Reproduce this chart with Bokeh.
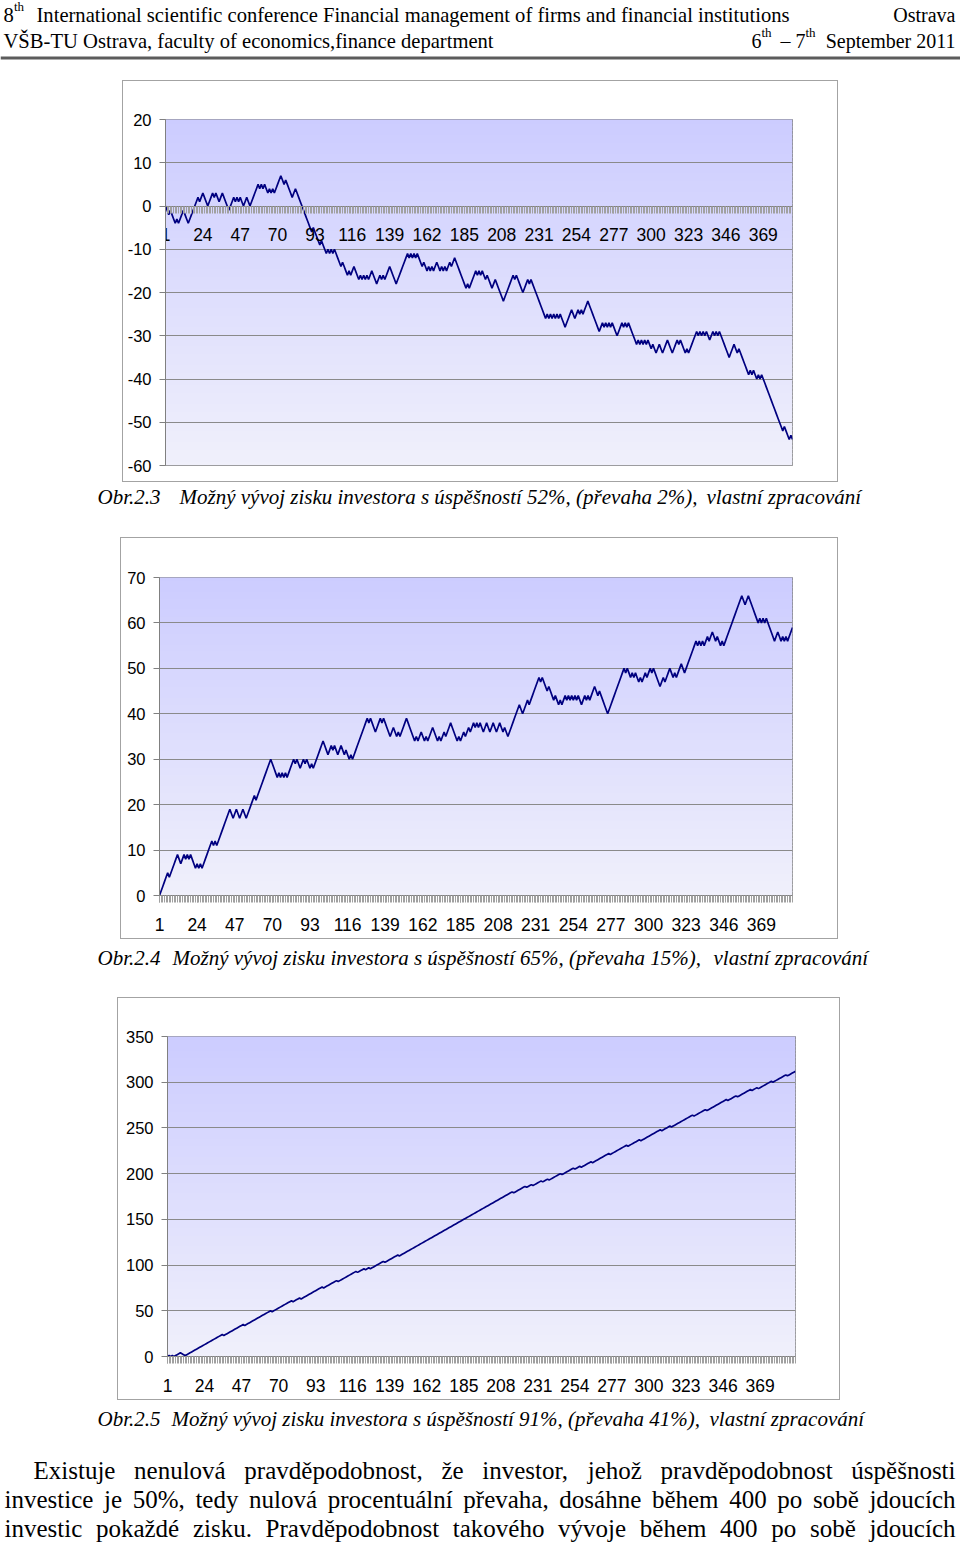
import numpy as np
from bokeh.plotting import figure
from bokeh.models import FixedTicker
from bokeh.core.properties import value
from bokeh.embed import file_html
from bokeh.resources import INLINE

# ---------------- data ----------------
x_tick_labels = ["1", "24", "47", "70", "93", "116", "139", "162", "185", "208",
                 "231", "254", "277", "300", "323", "346", "369"]
y_ticks_52 = [-60, -50, -40, -30, -20, -10, 0, 10, 20]
y_ticks_65 = [0, 10, 20, 30, 40, 50, 60, 70]
y_ticks_91 = [0, 50, 100, 150, 200, 250, 300, 350]

# cumulative profit, success 52 %
profit_52 = [
    0, -1, -2, -1, -2, -3, -4, -3, -4, -3,
    -2, -1, -2, -3, -4, -3, -2, -1, 0, 1,
    2, 1, 2, 3, 2, 1, 0, 1, 2, 3,
    2, 3, 2, 1, 2, 3, 2, 1, 0, -1,
    0, 1, 2, 1, 2, 1, 2, 1, 0, 1,
    2, 1, 0, 1, 2, 3, 4, 5, 4, 5,
    4, 5, 4, 3, 4, 3, 4, 3, 4, 5,
    6, 7, 6, 5, 6, 5, 4, 3, 2, 3,
    4, 3, 2, 1, 0, -1, -2, -3, -4, -5,
    -6, -5, -6, -7, -8, -9, -8, -9, -10, -11,
    -10, -11, -10, -11, -10, -11, -12, -13, -14, -13,
    -14, -15, -16, -15, -16, -15, -14, -15, -16, -17,
    -16, -17, -16, -17, -16, -17, -16, -15, -16, -17,
    -18, -17, -16, -17, -16, -17, -16, -15, -14, -15,
    -16, -17, -18, -17, -16, -15, -14, -13, -12, -11,
    -12, -11, -12, -11, -12, -11, -12, -13, -14, -13,
    -14, -15, -14, -15, -14, -15, -14, -13, -14, -15,
    -14, -15, -14, -15, -14, -13, -14, -13, -12, -13,
    -14, -15, -16, -17, -18, -19, -18, -19, -18, -17,
    -16, -15, -16, -15, -16, -15, -16, -17, -16, -17,
    -18, -19, -18, -17, -18, -19, -20, -21, -22, -21,
    -20, -19, -18, -17, -16, -17, -16, -17, -18, -19,
    -20, -19, -18, -17, -18, -17, -18, -19, -20, -21,
    -22, -23, -24, -25, -26, -25, -26, -25, -26, -25,
    -26, -25, -26, -25, -26, -27, -28, -27, -26, -25,
    -24, -25, -26, -25, -24, -25, -24, -25, -24, -23,
    -22, -23, -24, -25, -26, -27, -28, -29, -28, -27,
    -28, -27, -28, -27, -28, -27, -28, -29, -30, -29,
    -28, -27, -28, -27, -28, -27, -28, -29, -30, -31,
    -32, -31, -32, -31, -32, -31, -32, -31, -32, -33,
    -32, -33, -34, -33, -32, -33, -34, -33, -32, -31,
    -32, -33, -34, -33, -32, -31, -32, -31, -32, -33,
    -34, -33, -34, -33, -32, -31, -30, -29, -30, -29,
    -30, -29, -30, -29, -30, -31, -30, -29, -30, -29,
    -30, -29, -30, -31, -32, -33, -34, -35, -34, -33,
    -32, -33, -34, -33, -34, -35, -36, -37, -38, -39,
    -38, -39, -38, -39, -40, -39, -40, -39, -40, -41,
    -42, -43, -44, -45, -46, -47, -48, -49, -50, -51,
    -52, -51, -52, -53, -54, -53, -54,
]

# cumulative profit, success 65 %
profit_65 = [
    0, 1, 2, 3, 4, 5, 4, 5, 6, 7,
    8, 9, 8, 7, 8, 9, 8, 9, 8, 9,
    8, 7, 6, 7, 6, 7, 6, 7, 8, 9,
    10, 11, 12, 11, 12, 11, 12, 13, 14, 15,
    16, 17, 18, 19, 18, 17, 18, 19, 18, 17,
    18, 19, 18, 17, 18, 19, 20, 21, 22, 21,
    22, 23, 24, 25, 26, 27, 28, 29, 30, 29,
    28, 27, 26, 27, 26, 27, 26, 27, 26, 27,
    28, 29, 30, 29, 30, 29, 28, 29, 30, 29,
    30, 29, 28, 29, 28, 29, 30, 31, 32, 33,
    34, 33, 32, 31, 32, 33, 32, 33, 32, 31,
    32, 33, 32, 31, 32, 31, 30, 31, 30, 31,
    32, 33, 34, 35, 36, 37, 38, 39, 38, 39,
    38, 37, 36, 37, 38, 39, 38, 39, 38, 37,
    36, 35, 36, 37, 36, 35, 36, 35, 36, 37,
    38, 39, 38, 37, 36, 35, 34, 35, 34, 35,
    36, 35, 34, 35, 34, 35, 36, 37, 36, 35,
    34, 35, 34, 35, 36, 35, 36, 37, 38, 37,
    36, 35, 34, 35, 34, 35, 36, 35, 36, 37,
    36, 37, 38, 37, 38, 37, 38, 37, 36, 37,
    38, 37, 36, 37, 38, 37, 36, 37, 38, 37,
    36, 37, 36, 35, 36, 37, 38, 39, 40, 41,
    42, 41, 40, 41, 42, 43, 42, 43, 44, 45,
    46, 47, 48, 47, 48, 47, 46, 45, 46, 45,
    44, 43, 44, 43, 42, 43, 42, 43, 44, 43,
    44, 43, 44, 43, 44, 43, 44, 43, 42, 43,
    44, 43, 44, 43, 44, 45, 46, 45, 44, 45,
    44, 43, 42, 41, 40, 41, 42, 43, 44, 45,
    46, 47, 48, 49, 50, 49, 50, 49, 48, 49,
    48, 49, 48, 47, 48, 47, 48, 49, 48, 49,
    50, 49, 50, 49, 48, 47, 46, 47, 48, 47,
    48, 49, 50, 49, 48, 49, 48, 49, 50, 51,
    50, 49, 50, 51, 52, 53, 54, 55, 56, 55,
    56, 55, 56, 55, 56, 57, 56, 57, 58, 57,
    56, 57, 56, 55, 56, 55, 56, 57, 58, 59,
    60, 61, 62, 63, 64, 65, 66, 65, 64, 65,
    66, 65, 64, 63, 62, 61, 60, 61, 60, 61,
    60, 61, 60, 59, 58, 57, 56, 57, 58, 57,
    56, 57, 56, 57, 56, 57, 58, 59,
]

# cumulative profit, success 91 %
profit_91 = [
    0, 1, 0, 1, 0, 1, 2, 3, 4, 3,
    2, 1, 2, 3, 4, 5, 6, 7, 8, 9,
    10, 11, 12, 13, 14, 15, 16, 17, 18, 19,
    20, 21, 22, 23, 24, 23, 24, 25, 26, 27,
    28, 29, 30, 31, 32, 33, 34, 35, 34, 35,
    36, 37, 38, 39, 40, 41, 42, 43, 44, 45,
    46, 47, 48, 49, 50, 49, 50, 51, 52, 53,
    54, 55, 56, 57, 58, 59, 60, 61, 60, 61,
    62, 63, 64, 63, 64, 65, 66, 67, 68, 69,
    70, 71, 72, 73, 74, 75, 76, 75, 76, 77,
    78, 79, 80, 81, 82, 83, 82, 83, 84, 85,
    86, 87, 88, 89, 90, 91, 92, 93, 92, 93,
    94, 95, 96, 95, 96, 97, 96, 97, 98, 99,
    100, 101, 102, 103, 104, 103, 104, 105, 106, 107,
    108, 109, 110, 111, 110, 111, 112, 113, 114, 115,
    116, 117, 118, 119, 120, 121, 122, 123, 124, 125,
    126, 127, 128, 129, 130, 131, 132, 133, 134, 135,
    136, 137, 138, 139, 140, 141, 142, 143, 144, 145,
    146, 147, 148, 149, 150, 151, 152, 153, 154, 155,
    156, 157, 158, 159, 160, 161, 162, 163, 164, 165,
    166, 167, 168, 169, 170, 171, 172, 173, 174, 175,
    176, 177, 178, 179, 180, 179, 180, 181, 182, 183,
    184, 185, 186, 185, 186, 187, 188, 187, 188, 189,
    190, 191, 192, 191, 192, 193, 194, 193, 194, 195,
    196, 197, 198, 199, 200, 199, 200, 201, 202, 203,
    204, 205, 206, 205, 206, 207, 208, 207, 208, 209,
    210, 211, 212, 213, 212, 213, 214, 215, 216, 217,
    218, 219, 220, 221, 222, 221, 222, 223, 224, 225,
    226, 227, 228, 229, 230, 231, 230, 231, 232, 233,
    234, 235, 236, 237, 236, 237, 238, 239, 240, 241,
    242, 243, 244, 245, 246, 247, 248, 247, 248, 249,
    250, 251, 252, 251, 252, 253, 254, 255, 256, 257,
    258, 259, 260, 261, 262, 263, 264, 263, 264, 265,
    266, 267, 268, 269, 270, 269, 270, 271, 272, 273,
    274, 275, 276, 277, 278, 279, 280, 281, 280, 281,
    282, 283, 284, 285, 284, 285, 286, 287, 288, 289,
    290, 291, 292, 291, 292, 293, 294, 293, 294, 295,
    296, 297, 298, 299, 300, 301, 300, 301, 302, 303,
    304, 305, 306, 307, 308, 307, 308, 309, 310, 311,
    312,
]

header_line1 = ["8", "th", "International scientific conference Financial management of firms and financial institutions", "Ostrava"]
header_line2 = ["VŠB-TU Ostrava, faculty of economics,finance department", "6", "th", "–", "7", "th", "September 2011"]

captions = [
    ["Obr.2.3", "Možný vývoj zisku investora s úspěšností 52%, (převaha 2%),", "vlastní zpracování"],
    ["Obr.2.4", "Možný vývoj zisku investora s úspěšností 65%, (převaha 15%),", "vlastní zpracování"],
    ["Obr.2.5", "Možný vývoj zisku investora s úspěšností 91%, (převaha 41%),", "vlastní zpracování"],
]

body_lines = [
    "Existuje nenulová pravděpodobnost, že investor, jehož pravděpodobnost úspěšnosti",
    "investice je 50%, tedy nulová procentuální převaha, dosáhne během 400 po sobě jdoucích",
    "investic pokaždé zisku. Pravděpodobnost takového vývoje během 400 po sobě jdoucích",
]

# ---------------- styling helpers ----------------
SERIF = "Liberation Serif"
SANS = "Liberation Sans"
GRAD_TOP = (204, 204, 255)
GRAD_BOTTOM = (240, 240, 251)
LINE_COLOR = "#000080"
GRID = "#8a8a8a"

# Times / Liberation Serif advance widths (1/1000 em)
TIMES = {' ': 250, ',': 250, '.': 250, '%': 833, 'E': 611, 'P': 556,
         'a': 444, 'b': 500, 'c': 444, 'd': 500, 'e': 444, 'f': 333, 'g': 500, 'h': 500,
         'i': 278, 'j': 278, 'k': 500, 'l': 278, 'm': 778, 'n': 500, 'o': 500, 'p': 500,
         'q': 500, 'r': 333, 's': 389, 't': 278, 'u': 500, 'v': 500, 'w': 722, 'x': 500,
         'y': 500, 'z': 444, 'á': 444, 'é': 444, 'ě': 444, 'í': 278, 'ý': 500, 'ú': 500,
         'ů': 500, 'š': 389, 'ž': 444, 'č': 444, 'ř': 333}
for d in "0123456789":
    TIMES[d] = 500


def text_fig(width, height):
    p = figure(width=width, height=height, x_range=(0, width), y_range=(height, 0),
               toolbar_location=None, output_backend="svg", min_border=0,
               x_axis_type=None, y_axis_type=None, outline_line_color=None,
               margin=(0, 0, 0, 0))
    return p


def put(p, x, y, s, size, italic=False, align="left", font=SERIF):
    p.text(x=[x], y=[y], text=[s], text_font=value(font), text_font_size=f"{size}px",
           text_font_style="italic" if italic else "normal", text_align=align,
           text_baseline="alphabetic", text_color="#000000")


def justify(p, line, x0, x1, y, size):
    words = line.split(" ")
    widths = [sum(TIMES.get(c, 500) for c in w) * size / 1000.0 for w in words]
    gap = (x1 - x0 - sum(widths)) / (len(words) - 1)
    xs, cur = [], x0
    for w in widths:
        xs.append(cur)
        cur += w + gap
    p.text(x=xs, y=[y] * len(words), text=words, text_font=value(SERIF),
           text_font_size=f"{size}px", text_align="left", text_baseline="alphabetic",
           text_color="#000000")


def chart(values, y_ticks, width, height, borders, margin_left, fixed_zero=False):
    n = len(values)
    xs = list(range(1, n + 1))
    left, right, top, bottom = borders
    p = figure(width=width, height=height, x_range=(1, n), y_range=(y_ticks[0], y_ticks[-1]),
               toolbar_location=None, output_backend="svg",
               min_border_left=left, min_border_right=right,
               min_border_top=top, min_border_bottom=bottom,
               margin=(0, 0, 0, margin_left),
               styles={"border": "1px solid #a3a3a3"})
    # gradient background of the plot area
    nb = 90
    y0, y1 = y_ticks[0], y_ticks[-1]
    edges = np.linspace(y0, y1, nb + 1)
    cols = []
    for k in range(nb):
        t = (k + 0.5) / nb
        c = [int(round(GRAD_BOTTOM[i] + (GRAD_TOP[i] - GRAD_BOTTOM[i]) * t)) for i in range(3)]
        cols.append("#%02x%02x%02x" % tuple(c))
    eps = (y1 - y0) * 0.003
    p.quad(left=1, right=n, bottom=edges[:-1], top=edges[1:] + eps,
           fill_color=cols, line_color=None, level="image")

    p.line(xs, values, line_color=LINE_COLOR, line_width=1.7)

    p.outline_line_color = "#808080"
    p.xgrid.visible = False
    p.ygrid.ticker = FixedTicker(ticks=y_ticks)
    p.ygrid.grid_line_color = GRID

    ya = p.yaxis[0]
    ya.ticker = FixedTicker(ticks=y_ticks)
    ya.major_label_overrides = {t: str(t) for t in y_ticks}
    ya.axis_line_color = "#808080"
    ya.major_tick_line_color = "#808080"
    ya.major_tick_out = 6
    ya.major_tick_in = 0
    ya.minor_tick_line_color = None
    ya.major_label_standoff = 8
    ya.major_label_text_font = SANS
    ya.major_label_text_font_size = "16.5px"
    ya.major_label_text_color = "#000000"

    xa = p.xaxis[0]
    major = [int(s) for s in x_tick_labels]
    xa.ticker = FixedTicker(ticks=major, minor_ticks=xs)
    xa.major_label_overrides = {int(s): s for s in x_tick_labels}
    xa.axis_line_color = "#808080"
    xa.major_tick_line_color = "#a0a0a0"
    xa.minor_tick_line_color = "#a0a0a0"
    xa.major_tick_out = 7
    xa.major_tick_in = 0
    xa.minor_tick_out = 7
    xa.minor_tick_in = 0
    xa.major_label_standoff = 15
    xa.major_label_text_font = SANS
    xa.major_label_text_font_size = "17.5px"
    xa.major_label_text_color = "#000000"
    if fixed_zero:
        xa.fixed_location = 0
    return p


# ---------------- page (each block is its own root, stacked) ----------------
HF = 20.6
head = text_fig(960, 80)
put(head, 3, 14, header_line1[0], HF)
put(head, 13.5, 6, header_line1[1], 13)
put(head, 36, 14, header_line1[2], HF)
put(head, 955, 14, header_line1[3], 20, align="right")
put(head, 3, 40, header_line2[0], HF)
put(head, 751, 40, header_line2[1], 20)
put(head, 761, 32, header_line2[2], 13)
put(head, 780, 40, header_line2[3], 20)
put(head, 795, 40, header_line2[4], 20)
put(head, 805, 32, header_line2[5], 13)
put(head, 955, 40, header_line2[6], 20, align="right")
head.segment(x0=[0], y0=[57.5], x1=[960], y1=[57.5], line_width=3, line_color="#5c5c5c")

# chart 1: box 122..838 x 80..482
c1 = chart(profit_52, y_ticks_52, 716, 402, (42, 47, 38, 18), 122, fixed_zero=True)

cap1 = text_fig(960, 55)
put(cap1, 97, 14, captions[0][0], 21, italic=True)
put(cap1, 179, 14, captions[0][1], 21, italic=True)
put(cap1, 706, 14, captions[0][2], 21, italic=True)

# chart 2: box 120..838 x 537..939
c2 = chart(profit_65, y_ticks_65, 718, 402, (38, 47, 39, 45), 120)

cap2 = text_fig(960, 58)
put(cap2, 97, 18, captions[1][0], 21, italic=True)
put(cap2, 172, 18, captions[1][1], 21, italic=True)
put(cap2, 713, 18, captions[1][2], 21, italic=True)

# chart 3: box 117..840 x 997..1400
c3 = chart(profit_91, y_ticks_91, 723, 403, (49, 46, 38, 45), 117)

bottom = text_fig(960, 145)
put(bottom, 97, 18, captions[2][0], 21, italic=True)
put(bottom, 171, 18, captions[2][1], 21, italic=True)
put(bottom, 709, 18, captions[2][2], 21, italic=True)
justify(bottom, body_lines[0], 33, 955, 70, 25)
justify(bottom, body_lines[1], 4, 955, 99, 25)
justify(bottom, body_lines[2], 4, 955, 128, 25)

roots = [head, c1, cap1, c2, cap2, c3, bottom]
open("out.html", "w").write(file_html(roots, INLINE))
